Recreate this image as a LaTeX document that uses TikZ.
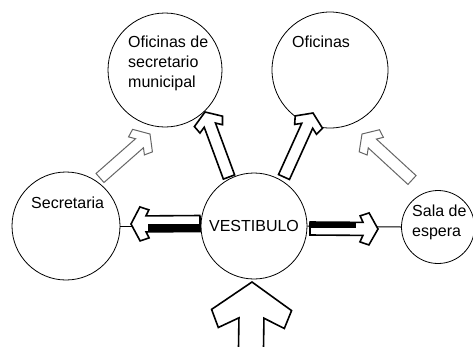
\documentclass[tikz,border=0pt]{standalone}
\usepackage{fontspec}
\setmainfont{Liberation Sans}
\usetikzlibrary{calc}
\newcommand\fatarrow[9]{%
  % #1 style, #2 tail, #3 tip, #4 shaft half width, #5 head half width,
  % #6 head outer back, #7 wing bottom back, #8 wing bottom perp, #9 shaft corner back
  \coordinate (fa-h) at ($(#3)!#6!(#2)$);
  \coordinate (fa-w) at ($(#3)!#7!(#2)$);
  \coordinate (fa-s) at ($(#3)!#9!(#2)$);
  \draw[#1] (#3) -- ($(fa-h)!#5!90:(#3)$) -- ($(fa-w)!#8!90:(#3)$)
    -- ($(fa-s)!#4!90:(#3)$) -- ($(#2)!#4!90:(#3)$) -- ($(#2)!#4!-90:(#3)$)
    -- ($(fa-s)!#4!-90:(#3)$) -- ($(fa-w)!#8!-90:(#3)$) -- ($(fa-h)!#5!-90:(#3)$)
    -- cycle;
}
\begin{document}
\begin{tikzpicture}[x=1pt,y=-1pt,
  room/.style={circle, draw=black, line width=0.8pt, inner sep=0pt, minimum size=#1},
  lbl/.style={inner sep=0pt, font=\fontsize{16}{20}\selectfont, align=left},
  blockarrow/.style={draw=black, fill=white, line width=1.6pt, line join=miter},
  lightarrow/.style={draw=black!60, fill=white, line width=1pt, line join=miter},
  link/.style={draw=black, line width=1pt}]
\useasboundingbox (0,0) rectangle (473,346);
\fill[white] (0,0) rectangle (473,346);

% rooms
\node[room=106pt, label={[lbl]center:VESTIBULO}] (vest) at (254,226) {};
\node[room=114pt] (ofsec) at (165,70) {};
\node[room=116pt] (ofic) at (330,70) {};
\node[room=108pt] (secr) at (66,226) {};
\node[room=73pt] (sala) at (438,227) {};

% connectors
\draw[link] (secr.east) -- (vest.west);
\draw[link] (vest.east) -- (sala.west);

% arrow end points
\coordinate (aL-t) at (200,223.5);  \coordinate (aL-p) at (131,224);
\coordinate (aR-t) at (310,228.5);  \coordinate (aR-p) at (378,229);
\coordinate (aUL-t) at (229,177);   \coordinate (aUL-p) at (205,112);
\coordinate (aUR-t) at (284,177);   \coordinate (aUR-p) at (313,113);
\coordinate (aGL-t) at (100,178);   \coordinate (aGL-p) at (150,134);
\coordinate (aGR-t) at (412,180);   \coordinate (aGR-p) at (362,134);
\coordinate (aB-t) at (251,348);    \coordinate (aB-p) at (252,282);

\fatarrow{blockarrow}{aL-t}{aL-p}{8pt}{17pt}{9pt}{18pt}{14pt}{15pt}
\fill[black] (148,224) rectangle (200,231.5);
\fatarrow{blockarrow}{aR-t}{aR-p}{6.5pt}{16pt}{9pt}{18pt}{13pt}{15pt}
\fill[black] (311,222) rectangle (356,227.5);
\fatarrow{blockarrow}{aUL-t}{aUL-p}{6pt}{15pt}{10pt}{18pt}{12pt}{14pt}
\fatarrow{blockarrow}{aUR-t}{aUR-p}{6pt}{15pt}{10pt}{18pt}{12pt}{14pt}
\fatarrow{lightarrow}{aGL-t}{aGL-p}{6pt}{15pt}{10pt}{18pt}{12pt}{14pt}
\fatarrow{lightarrow}{aGR-t}{aGR-p}{6pt}{15pt}{10pt}{18pt}{12pt}{14pt}
\fatarrow{blockarrow}{aB-t}{aB-p}{12.5pt}{40pt}{28pt}{46pt}{33pt}{36pt}

% labels
\node[lbl, anchor=base west] (t-ofsec) at (128,87) {Oficinas de\\secretario\\municipal};
\node[lbl, anchor=base west] (t-ofic) at (292,47) {Oficinas};
\node[lbl, anchor=base west] (t-secr) at (31,208) {Secretaria};
\node[lbl, anchor=base west] (t-sala) at (412,236) {Sala de\\espera};
\end{tikzpicture}
\end{document}
